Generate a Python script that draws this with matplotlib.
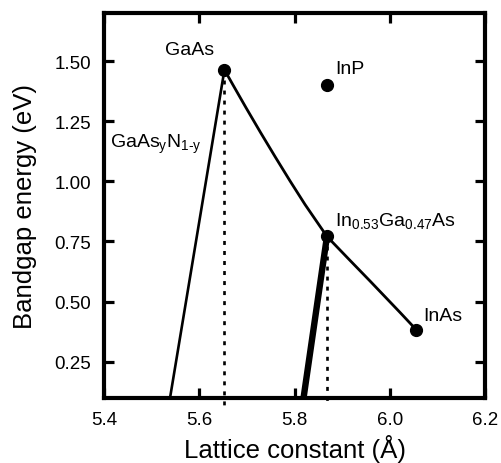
""" Bandgap energy vs lattice constant for GaAs / InAs / InP alloys
"""
import matplotlib
matplotlib.use('Agg')
import matplotlib.pyplot as plt

plt.rcParams['font.family'] = ['Liberation Sans', 'DejaVu Sans']
plt.rcParams['mathtext.fontset'] = 'custom'
plt.rcParams['mathtext.rm'] = 'Liberation Sans'
plt.rcParams['mathtext.it'] = 'Liberation Sans'

# binary / ternary points (lattice constant in A, bandgap in eV)
point_names = ['GaAs', 'InP', 'InGaAs', 'InAs']
point_a = [5.653, 5.868, 5.868, 6.055]
point_eg = [1.465, 1.40, 0.771, 0.383]

# InGaAs curve (GaAs -> In0.53Ga0.47As -> InAs)
curve_a = [5.653, 5.6715, 5.698, 5.729, 5.759, 5.7906, 5.822, 5.868,
           5.915, 5.9585, 6.0215, 6.055]
curve_eg = [1.465, 1.400, 1.308, 1.203, 1.104, 1.002, 0.904, 0.771,
            0.674, 0.585, 0.454, 0.383]

# GaAsN line and the thick line below In0.53Ga0.47As
gaasn_a = [5.653, 5.539]
gaasn_eg = [1.465, 0.10]
thick_a = [5.868, 5.819]
thick_eg = [0.771, 0.10]

x_ticks = [5.4, 5.6, 5.8, 6.0, 6.2]
y_ticks = [0.25, 0.50, 0.75, 1.00, 1.25, 1.50]

fig = plt.figure(figsize=(5.01, 4.64), dpi=100)
ax = fig.add_axes([0.2072, 0.141, 0.7614, 0.828])

ax.plot(curve_a, curve_eg, color='black', lw=2.0, zorder=3)
ax.plot(gaasn_a, gaasn_eg, color='black', lw=1.9, zorder=3)
ax.plot(thick_a, thick_eg, color='black', lw=4.6, zorder=3,
        solid_capstyle='butt')

# dotted drop lines at GaAs and In0.53Ga0.47As
for xa, ye in [(point_a[0], point_eg[0]), (point_a[2], point_eg[2])]:
    ax.plot([xa, xa], [ye, 0.068], color='black', lw=1.9,
            linestyle=(0, (1.5, 2.3)), clip_on=False, zorder=2)

ax.plot(point_a, point_eg, 'o', color='black', ms=8.5, zorder=4)

ax.text(5.5806, 1.531, 'GaAs', ha='center', va='baseline', fontsize=14)
ax.text(5.885, 1.45, 'InP', ha='left', va='baseline', fontsize=14)
ax.text(5.4126, 1.142, r'GaAs$_\mathregular{y}$N$_\mathregular{1\text{-}y}$',
        ha='left', va='baseline', fontsize=14)
ax.text(5.885, 0.818, r'In$_\mathregular{0.53}$Ga$_\mathregular{0.47}$As',
        ha='left', va='baseline', fontsize=14)
ax.text(6.0705, 0.425, 'InAs', ha='left', va='baseline', fontsize=14)

ax.set_xlim(5.4, 6.2)
ax.set_ylim(0.1, 1.7)
ax.set_xticks(x_ticks)
ax.set_xticklabels(['%.1f' % v for v in x_ticks])
ax.set_yticks(y_ticks)
ax.set_yticklabels(['%.2f' % v for v in y_ticks])
ax.tick_params(direction='in', length=7.5, width=2.3, labelsize=13.5,
               top=True, right=True)
ax.tick_params(axis='x', pad=10)
ax.tick_params(axis='y', pad=9)

for sp in ax.spines.values():
    sp.set_linewidth(3.0)

ax.set_xlabel('Lattice constant (Å)', fontsize=18.5, labelpad=4)
ax.set_ylabel('Bandgap energy (eV)', fontsize=18.5, labelpad=13)

plt.savefig('out.png', dpi=100)
